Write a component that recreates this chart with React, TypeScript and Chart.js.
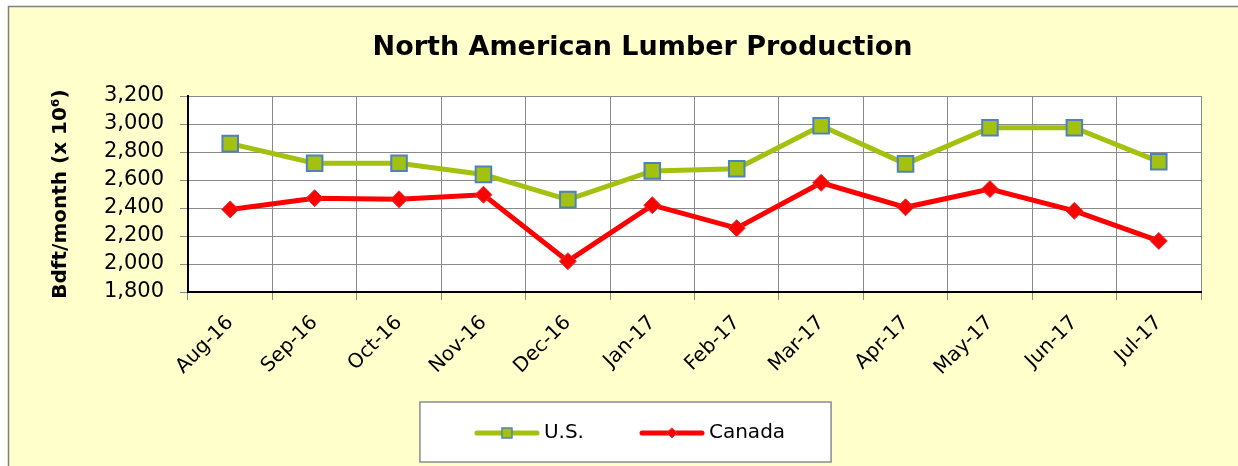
import React, { useEffect, useRef } from "react";
import { Chart, registerables } from "chart.js";

Chart.register(...registerables);

const categories = ["Aug-16", "Sep-16", "Oct-16", "Nov-16", "Dec-16", "Jan-17", "Feb-17", "Mar-17", "Apr-17", "May-17", "Jun-17", "Jul-17"];
const usValues = [2860, 2720, 2720, 2640, 2460, 2665, 2680, 2988, 2715, 2973, 2973, 2731];
const canadaValues = [2390, 2470, 2462, 2495, 2020, 2420, 2256, 2580, 2405, 2535, 2380, 2165];
const yTicks = { min: 1800, max: 3200, step: 200 };

const US_GREEN = "#A3C20F";
const US_BORDER = "#4F81BD";
const CA_RED = "#FF0000";
const CA_BORDER = "#D43A3A";
const FONT = "'DejaVu Sans', 'Liberation Sans', Arial, sans-serif";

function legendImage(kind: "us" | "ca"): HTMLCanvasElement {
  const c = document.createElement("canvas");
  c.width = 66;
  c.height = 16;
  const ctx = c.getContext("2d")!;
  ctx.lineCap = "round";
  ctx.lineWidth = 5;
  ctx.strokeStyle = kind === "us" ? US_GREEN : CA_RED;
  ctx.beginPath();
  ctx.moveTo(3, 8);
  ctx.lineTo(63, 8);
  ctx.stroke();
  if (kind === "us") {
    ctx.fillStyle = US_GREEN;
    ctx.fillRect(28, 3, 10, 10);
    ctx.lineWidth = 1.5;
    ctx.strokeStyle = US_BORDER;
    ctx.strokeRect(28, 3, 10, 10);
  } else {
    ctx.fillStyle = CA_RED;
    ctx.beginPath();
    ctx.moveTo(33, 3);
    ctx.lineTo(38, 8);
    ctx.lineTo(33, 13);
    ctx.lineTo(28, 8);
    ctx.closePath();
    ctx.fill();
    ctx.lineWidth = 1;
    ctx.strokeStyle = CA_BORDER;
    ctx.stroke();
  }
  return c;
}

export default function App() {
  const ref = useRef<HTMLCanvasElement | null>(null);

  useEffect(() => {
    if (!ref.current) return;
    const imgs = [legendImage("us"), legendImage("ca")];

    const background = {
      id: "background",
      beforeDraw(chart: any) {
        const { ctx, width, height, chartArea } = chart;
        ctx.save();
        ctx.fillStyle = "#FFFFFF";
        ctx.fillRect(0, 0, width, height);
        ctx.fillStyle = "#FFFFCC";
        ctx.fillRect(8, 6, width - 8, height - 6);
        ctx.strokeStyle = "#808080";
        ctx.lineWidth = 1.5;
        ctx.beginPath();
        ctx.moveTo(8.5, height);
        ctx.lineTo(8.5, 6.5);
        ctx.lineTo(width, 6.5);
        ctx.stroke();
        ctx.fillStyle = "#FFFFFF";
        ctx.fillRect(chartArea.left, chartArea.top, chartArea.right - chartArea.left, chartArea.bottom - chartArea.top);
        const lg = chart.legend;
        if (lg && lg.legendHitBoxes && lg.legendHitBoxes.length) {
          const hb = lg.legendHitBoxes;
          const first = hb[0];
          const last = hb[hb.length - 1];
          const left = first.left - 60;
          const right = last.left + last.width + 46;
          const cy = first.top + first.height / 2;
          const top = cy - 31;
          const bottom = cy + 29;
          ctx.fillStyle = "#FFFFFF";
          ctx.fillRect(left, top, right - left, bottom - top);
          ctx.strokeStyle = "#8C8C8C";
          ctx.lineWidth = 1.5;
          ctx.strokeRect(left, top, right - left, bottom - top);
        }
        ctx.restore();
      },
      afterLayout(chart: any) {
        const t = chart.titleBlock;
        if (t) {
          t.left += 38;
          t.right += 38;
        }
        const lg = chart.legend;
        if (lg) {
          lg.left += 28;
          lg.right += 28;
          const h = lg.bottom - lg.top;
          lg.top = 362;
          lg.bottom = 362 + h;
        }
      },
    };

    const chart = new Chart(ref.current, {
      type: "line",
      data: {
        labels: categories,
        datasets: [
          {
            label: "U.S.",
            data: usValues,
            borderColor: US_GREEN,
            borderWidth: 5,
            backgroundColor: US_GREEN,
            pointStyle: "rect",
            pointRadius: 11,
            pointBackgroundColor: US_GREEN,
            pointBorderColor: US_BORDER,
            pointBorderWidth: 2,
            tension: 0,
          },
          {
            label: "Canada",
            data: canadaValues,
            borderColor: CA_RED,
            borderWidth: 5,
            backgroundColor: CA_RED,
            pointStyle: "rectRot",
            pointRadius: 8.5,
            pointBackgroundColor: CA_RED,
            pointBorderColor: CA_BORDER,
            pointBorderWidth: 1,
            tension: 0,
          },
        ],
      },
      options: {
        responsive: false,
        animation: false,
        layout: { padding: { left: 8, right: 37, top: 0, bottom: 0 } },
        scales: {
          x: {
            type: "category",
            offset: true,
            grid: { offset: true, color: "#8A8A8A", lineWidth: 1, tickLength: 8, drawTicks: true },
            border: { color: "#000000", width: 2 },
            ticks: {
              autoSkip: false,
              minRotation: 45,
              maxRotation: 45,
              padding: 11,
              color: "#000000",
              font: { family: FONT, size: 20 },
            },
            afterFit(scale: any) {
              scale.height = 83;
            },
          },
          y: {
            min: yTicks.min,
            max: yTicks.max,
            grid: { color: "#8A8A8A", lineWidth: 1, tickLength: 8 },
            border: { color: "#000000", width: 2 },
            ticks: {
              stepSize: yTicks.step,
              autoSkip: false,
              padding: 16,
              color: "#000000",
              font: { family: FONT, size: 21 },
            },
            title: {
              display: true,
              text: "Bdft/month (x 10\u2076)",
              color: "#000000",
              font: { family: FONT, size: 20, weight: "bold" },
              padding: { top: 41, bottom: 0 },
            },
            afterFit(scale: any) {
              scale.width = 180;
            },
          },
        },
        plugins: {
          title: {
            display: true,
            text: "North American Lumber Production",
            color: "#000000",
            font: { family: FONT, size: 27, weight: "bold" },
            padding: { top: 32, bottom: 31.6 },
          },
          legend: {
            display: true,
            position: "bottom",
            labels: {
              usePointStyle: true,
              pointStyleWidth: 54,
              padding: 61,
              color: "#000000",
              font: { family: FONT, size: 20 },
              generateLabels(chart: any) {
                return chart.data.datasets.map((ds: any, i: number) => ({
                  text: ds.label,
                  fillStyle: ds.borderColor,
                  strokeStyle: ds.borderColor,
                  lineWidth: 0,
                  hidden: !chart.isDatasetVisible(i),
                  datasetIndex: i,
                  pointStyle: imgs[i],
                  fontColor: "#000000",
                }));
              },
            },
          },
          tooltip: { enabled: false },
        },
      },
      plugins: [background],
    } as any);

    return () => chart.destroy();
  }, []);

  return (
    <div style={{ position: "absolute", left: 0, top: 0, width: 1238, height: 466 }}>
      <canvas ref={ref} width={1238} height={466} style={{ display: "block" }} />
    </div>
  );
}
